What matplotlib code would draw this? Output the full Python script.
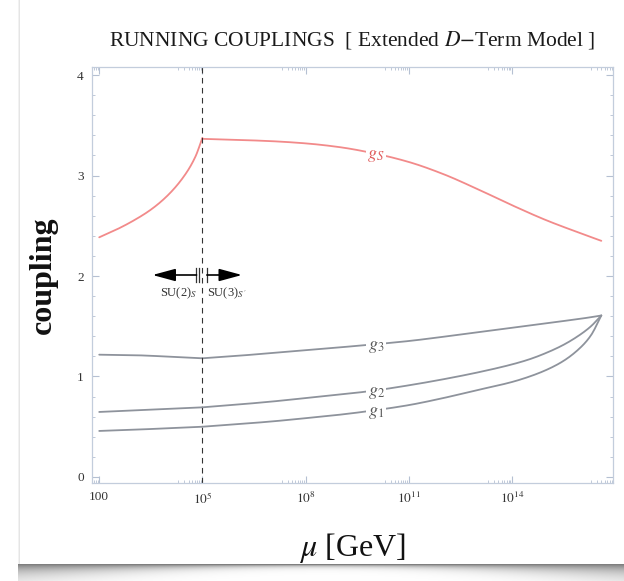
import numpy as np
import matplotlib
matplotlib.use("Agg")
import matplotlib.pyplot as plt
from matplotlib.ticker import FixedLocator, FixedFormatter, NullFormatter

plt.rcParams['font.family'] = ['Liberation Serif', 'DejaVu Serif']
plt.rcParams['mathtext.fontset'] = 'stix'

# ---- data (log10 of mu in GeV, coupling values) ----
gs_low_logmu = [2.0, 2.5, 3.0, 3.5, 4.0, 4.5, 4.8, 5.0]
gs_low = [2.385, 2.462, 2.552, 2.66, 2.805, 3.01, 3.19, 3.375]
gs_high_logmu = [5.0, 6.0, 7.0, 8.0, 9.0, 10.0, 11.0, 12.0, 13.0, 14.0, 15.0, 16.0, 16.6]
gs_high = [3.365, 3.355, 3.342, 3.32, 3.282, 3.22, 3.135, 3.015, 2.865, 2.705, 2.555, 2.425, 2.35]

g_low_logmu = [2.0, 3.0, 4.0, 5.0]
g3_low = [1.217, 1.212, 1.198, 1.181]
g2_low = [0.647, 0.662, 0.677, 0.693]
g1_low = [0.458, 0.47, 0.485, 0.50]

g_high_logmu = [5.0, 6.0, 7.0, 8.0, 9.0, 10.0, 11.0, 12.0, 13.0, 14.0,
                14.5, 15.0, 15.5, 16.0, 16.3, 16.6]
g3_high = [1.181, 1.205, 1.233, 1.26, 1.29, 1.32, 1.353, 1.395,
           1.44, 1.485, 1.507, 1.53, 1.552, 1.575, 1.59, 1.607]
g2_high = [0.693, 0.72, 0.75, 0.785, 0.82, 0.86, 0.912, 0.972,
           1.04, 1.12, 1.17, 1.235, 1.315, 1.42, 1.50, 1.607]
g1_high = [0.50, 0.525, 0.552, 0.585, 0.62, 0.663, 0.715, 0.785,
           0.865, 0.945, 0.998, 1.065, 1.155, 1.29, 1.41, 1.607]

threshold_logmu = 5.0
x_ticks_logmu = [2, 5, 8, 11, 14]
x_tick_labels = ['100', r'$10^{5}$', r'$10^{8}$', r'$10^{11}$', r'$10^{14}$']
y_ticks = [0, 1, 2, 3, 4]


def pchip(xk, yk, n=300):
    """Smooth monotone cubic curve through the given points (drawing only)."""
    xk = np.asarray(xk, float)
    yk = np.asarray(yk, float)
    h = np.diff(xk)
    d = np.diff(yk) / h
    m = np.zeros_like(yk)
    for i in range(1, len(xk) - 1):
        if d[i - 1] * d[i] <= 0:
            m[i] = 0
        else:
            w1 = 2 * h[i] + h[i - 1]
            w2 = h[i] + 2 * h[i - 1]
            m[i] = (w1 + w2) / (w1 / d[i - 1] + w2 / d[i])
    m[0] = d[0]
    m[-1] = d[-1]
    xs = np.linspace(xk[0], xk[-1], n)
    idx = np.clip(np.searchsorted(xk, xs) - 1, 0, len(xk) - 2)
    t = (xs - xk[idx]) / h[idx]
    h00 = 2 * t**3 - 3 * t**2 + 1
    h10 = t**3 - 2 * t**2 + t
    h01 = -2 * t**3 + 3 * t**2
    h11 = t**3 - t**2
    ys = (h00 * yk[idx] + h10 * h[idx] * m[idx] + h01 * yk[idx + 1]
          + h11 * h[idx] * m[idx + 1])
    return 10 ** xs, ys


W, H = 624, 581
fig = plt.figure(figsize=(W / 100, H / 100), dpi=100)
fig.patch.set_facecolor('white')

# ---- background card with shadow ----
bg = fig.add_axes([0, 0, 1, 1], zorder=-10)
img = np.ones((H, W, 3))
card_left, card_bottom = 20, 564
for x in range(card_left - 2, W):
    t = (x - 322) / 302.0
    depth = 3 + 11 * t * t
    for y in range(card_bottom, H):
        d = y - card_bottom
        val = 1 - 0.5 * np.exp(-d / max(depth, 1.0) * 1.4)
        img[y, x, :] = val
img[:card_bottom, card_left - 1, :] = 0.9
img[:card_bottom, card_left - 2, :] = 0.95
bg.imshow(img, aspect='auto', extent=[0, 1, 0, 1], origin='upper')
bg.axis('off')

# ---- main axes ----
ax = fig.add_axes([92 / W, 1 - 483 / H, (613 - 92) / W, (483 - 67) / H])
ax.set_facecolor('none')
ax.set_xscale('log')

gcol = '#8e939c'
rcol = '#f28a8a'
lw = 1.3
for xk, yk, c in [(gs_low_logmu, gs_low, rcol), (gs_high_logmu, gs_high, rcol),
                  (g_low_logmu, g3_low, gcol), (g_high_logmu, g3_high, gcol),
                  (g_low_logmu, g2_low, gcol), (g_high_logmu, g2_high, gcol),
                  (g_low_logmu, g1_low, gcol), (g_high_logmu, g1_high, gcol)]:
    xs, ys = pchip(xk, yk)
    ax.plot(xs, ys, color=c, lw=lw, solid_capstyle='round')

ax.axvline(10 ** threshold_logmu, color='#333333', lw=0.8, ls=(0, (5, 4)))

# curve labels
lab = 10.05
kw = dict(ha='center', va='center', fontsize=13,
          bbox=dict(fc='white', ec='none', pad=1.2))
ax.text(10 ** lab, np.interp(lab, gs_high_logmu, gs_high) - 0.02, r'$g_S$', color='#e05a5a', **kw)
ax.text(10 ** lab, np.interp(lab, g_high_logmu, g3_high) - 0.02, r'$g_3$', color='#5a5a5a', **kw)
ax.text(10 ** lab, np.interp(lab, g_high_logmu, g2_high) - 0.02, r'$g_2$', color='#5a5a5a', **kw)
ax.text(10 ** lab, np.interp(lab, g_high_logmu, g1_high) - 0.02, r'$g_1$', color='#5a5a5a', **kw)

# SU(2)/SU(3) arrows
ya = 2.01
ax.annotate('', xy=(10 ** 3.55, ya), xytext=(10 ** 4.83, ya),
            arrowprops=dict(arrowstyle='-|>,head_length=1.4,head_width=0.38',
                            color='black', lw=1.2, shrinkA=0, shrinkB=0))
ax.annotate('', xy=(10 ** 6.15, ya), xytext=(10 ** 5.13, ya),
            arrowprops=dict(arrowstyle='-|>,head_length=1.4,head_width=0.38',
                            color='black', lw=1.2, shrinkA=0, shrinkB=0))
for xb in (4.82, 4.91, 5.13):
    ax.plot([10 ** xb] * 2, [ya - 0.07, ya + 0.07], color='#333333', lw=0.9)
ax.text(10 ** 4.3, 1.83, r'SU(2)$_{S}$', ha='center', va='center', fontsize=9, color='#333333')
ax.text(10 ** 5.7, 1.83, r'SU(3)$_{S^{\prime}}$', ha='center', va='center', fontsize=9, color='#333333')

# axes limits & ticks
ax.set_xlim(10 ** 1.79, 10 ** 16.94)
ax.set_ylim(-0.06, 4.08)
ax.xaxis.set_major_locator(FixedLocator([10.0 ** e for e in x_ticks_logmu]))
ax.xaxis.set_major_formatter(FixedFormatter(x_tick_labels))
minors = []
for e in [2, 5, 8, 11, 14, 17]:
    for mm in range(2, 10):
        v = mm * 10.0 ** (e - 1)
        if 10 ** 1.79 < v < 10 ** 16.94:
            minors.append(v)
ax.xaxis.set_minor_locator(FixedLocator(minors))
ax.xaxis.set_minor_formatter(NullFormatter())
ax.yaxis.set_major_locator(FixedLocator(y_ticks))
ax.yaxis.set_minor_locator(FixedLocator(np.arange(0.0, 4.01, 0.2)))

tc = '#b5c0d2'
ax.tick_params(which='both', direction='in', top=True, right=True, color=tc)
ax.tick_params(which='major', length=5, width=0.8, labelsize=9.5, labelcolor='#333333')
ax.tick_params(which='minor', length=2.5, width=0.6)
ax.tick_params(axis='x', pad=6)
ax.tick_params(axis='y', pad=6)
for s in ax.spines.values():
    s.set_color('#c3cddc')
    s.set_linewidth(0.9)

ax.set_xlabel(r'$\mu$ [GeV]', fontsize=23, color='#111111', labelpad=17)
ax.set_ylabel('coupling', fontsize=23, fontweight='bold', color='#111111', labelpad=14)

fig.text((92 + 613) / 2 / W, 1 - 40 / H,
         r'RUNNING COUPLINGS  [ Extended $D$$-$Term Model ]',
         ha='center', va='center', fontsize=15.5, color='#1a1a1a')

fig.savefig('out.png', dpi=100, facecolor='white')
